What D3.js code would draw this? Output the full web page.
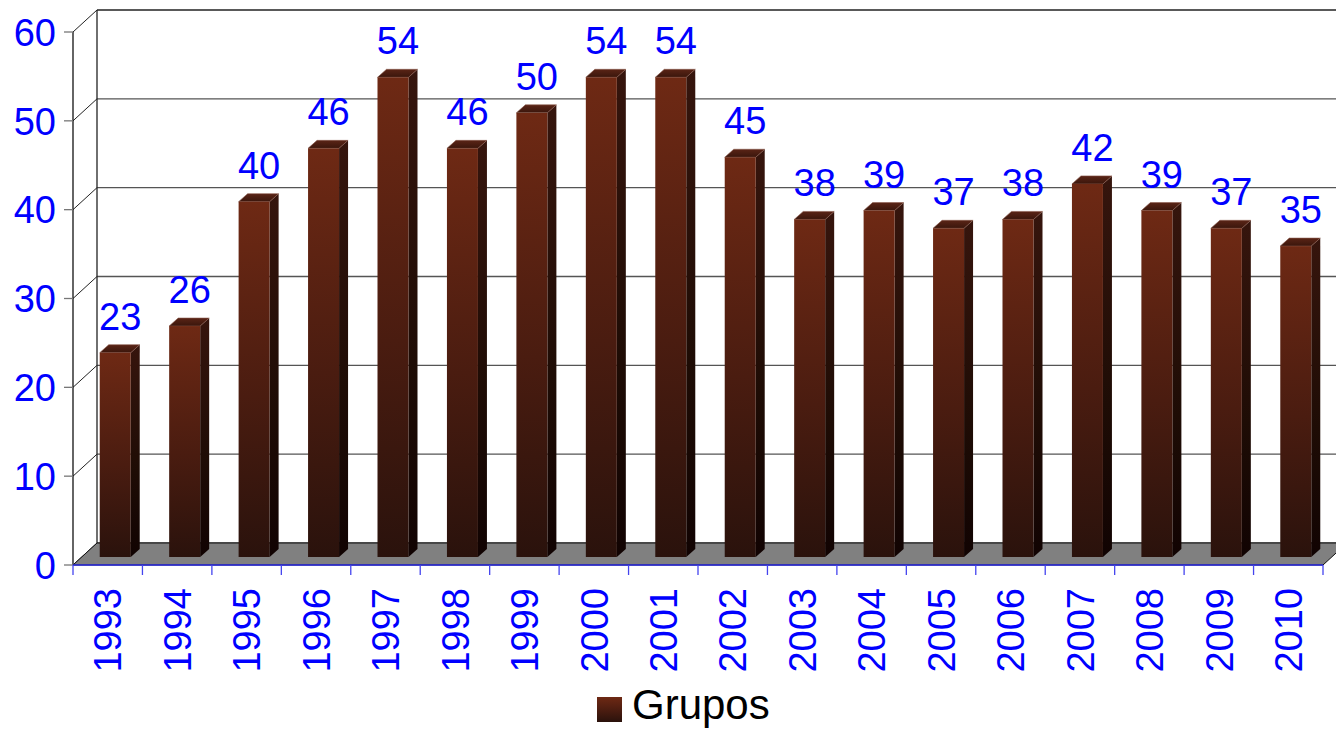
<!DOCTYPE html>
<html><head><meta charset="utf-8">
<script src="https://cdn.jsdelivr.net/npm/d3@7"></script>
<style>body{margin:0;background:#fff}svg{display:block}text{font-family:"Liberation Sans",Arial,sans-serif}</style>
</head><body><svg id="c" width="1336" height="731"></svg>
<script>
const years = ["1993","1994","1995","1996","1997","1998","1999","2000","2001","2002","2003","2004","2005","2006","2007","2008","2009","2010"];
const grupos = [23,26,40,46,54,46,50,54,54,45,38,39,37,38,42,39,37,35];
const yTicks = [0,10,20,30,40,50,60];
const seriesName = "Grupos";

const svg = d3.select("#c");
const W = 1336, H = 731;
const x0 = 73, x1 = 1323, yFront0 = 565, yFront60 = 32;
const depthX = 24, depthY = -22;
const x = d3.scaleBand().domain(years).range([x0, x1]);
const y = d3.scaleLinear().domain([0, 60]).range([yFront0, yFront60]);
const blue = "#0000ff";
const fs = 37;

const defs = svg.append("defs");
const gf = defs.append("linearGradient").attr("id","gFront").attr("x1",0).attr("y1",0).attr("x2",0).attr("y2",1);
gf.append("stop").attr("offset","0%").attr("stop-color","#6e2914");
gf.append("stop").attr("offset","55%").attr("stop-color","#4a1c10");
gf.append("stop").attr("offset","100%").attr("stop-color","#2a120c");
const gs = defs.append("linearGradient").attr("id","gSide").attr("x1",0).attr("y1",0).attr("x2",0).attr("y2",1);
gs.append("stop").attr("offset","0%").attr("stop-color","#36150d");
gs.append("stop").attr("offset","60%").attr("stop-color","#1e0c05");
gs.append("stop").attr("offset","100%").attr("stop-color","#110302");
const gt = defs.append("linearGradient").attr("id","gTop").attr("x1",0).attr("y1",1).attr("x2",0).attr("y2",0);
gt.append("stop").attr("offset","0%").attr("stop-color","#3a160c");
gt.append("stop").attr("offset","100%").attr("stop-color","#5a2416");

// back wall gridlines
const back = v => y(v) + depthY;
svg.append("g").selectAll("line").data(yTicks).join("line")
  .attr("x1", x0 + depthX).attr("x2", W + 20)
  .attr("y1", d => back(d)).attr("y2", d => back(d))
  .attr("stroke", d => d === 60 ? "#222" : "#555").attr("stroke-width", 1.3);
// side wall diagonals
svg.append("g").selectAll("line").data(yTicks).join("line")
  .attr("x1", x0).attr("y1", d => y(d))
  .attr("x2", x0 + depthX).attr("y2", d => back(d))
  .attr("stroke", "#222").attr("stroke-width", 1);
// back wall left edge
svg.append("line").attr("x1", x0 + depthX).attr("x2", x0 + depthX)
  .attr("y1", back(60)).attr("y2", back(0)).attr("stroke", "#222").attr("stroke-width", 1.3);

// floor
svg.append("path")
  .attr("d", `M${x0},${y(0)} L${x1},${y(0)} L${x1 + depthX},${back(0)} L${x0 + depthX},${back(0)} Z`)
  .attr("fill", "#808080").attr("stroke", "#111").attr("stroke-width", 1);

// front y-axis line
svg.append("line").attr("x1", x0).attr("x2", x0).attr("y1", y(60)).attr("y2", y(0))
  .attr("stroke", "#111").attr("stroke-width", 1.3);
// y ticks
svg.append("g").selectAll("line").data(yTicks).join("line")
  .attr("x1", x0 - 9).attr("x2", x0).attr("y1", d => y(d)).attr("y2", d => y(d))
  .attr("stroke", "#777").attr("stroke-width", 1.3);
svg.append("g").selectAll("text").data(yTicks).join("text")
  .attr("x", 56).attr("y", d => y(d)).attr("dy", "0.36em")
  .attr("text-anchor", "end").attr("fill", blue).attr("font-size", fs + 1).text(d => d);

// x axis line and ticks
svg.append("line").attr("x1", x0).attr("x2", x1).attr("y1", y(0)).attr("y2", y(0))
  .attr("stroke", "#2a2ae0").attr("stroke-width", 1.5);
const bounds = years.map(d => x(d)).concat([x1]);
svg.append("g").selectAll("line").data(bounds).join("line")
  .attr("x1", d => d).attr("x2", d => d).attr("y1", y(0)).attr("y2", y(0) + 10)
  .attr("stroke", "#4444ee").attr("stroke-width", 1.3);
svg.append("g").selectAll("text").data(years).join("text")
  .attr("transform", d => `translate(${x(d) + x.bandwidth() / 2},588) rotate(-90)`)
  .attr("dy", "0.36em").attr("text-anchor", "end").attr("fill", blue)
  .attr("font-size", fs + 1).text(d => d);

// bars
const bw = 31, bdx = 9, bdy = -8, baseShiftX = 8, baseShiftY = -8;
const bars = svg.append("g").selectAll("g").data(years.map((d, i) => ({ year: d, v: grupos[i] }))).join("g");
const fx = d => x(d.year) + x.bandwidth() / 2 - baseShiftX;
const by = v => y(v) + baseShiftY;
bars.append("path") // side
  .attr("d", d => { const l = fx(d) + bw, t = by(d.v), b = by(0);
    return `M${l},${t} L${l + bdx},${t + bdy} L${l + bdx},${b + bdy} L${l},${b} Z`; })
  .attr("fill", "url(#gSide)");
bars.append("path") // top
  .attr("d", d => { const l = fx(d), t = by(d.v);
    return `M${l},${t} L${l + bw},${t} L${l + bw + bdx},${t + bdy} L${l + bdx},${t + bdy} Z`; })
  .attr("fill", "url(#gTop)").attr("stroke", "#8a5a4e").attr("stroke-width", 0.6);
bars.append("rect") // front
  .attr("x", d => fx(d)).attr("y", d => by(d.v)).attr("width", bw)
  .attr("height", d => by(0) - by(d.v)).attr("fill", "url(#gFront)");

// value labels
bars.append("text")
  .attr("x", d => fx(d) + bw / 2 + 5).attr("y", d => by(d.v) - 23)
  .attr("text-anchor", "middle").attr("fill", blue).attr("font-size", fs + 1).text(d => d.v);

// legend
const lg = svg.append("g").attr("transform", "translate(597,697)");
lg.append("rect").attr("width", 25).attr("height", 25).attr("fill", "url(#gFront)");
lg.append("text").attr("x", 35).attr("y", 22).attr("font-size", 42).attr("fill", "#000").text(seriesName);
</script></body></html>
